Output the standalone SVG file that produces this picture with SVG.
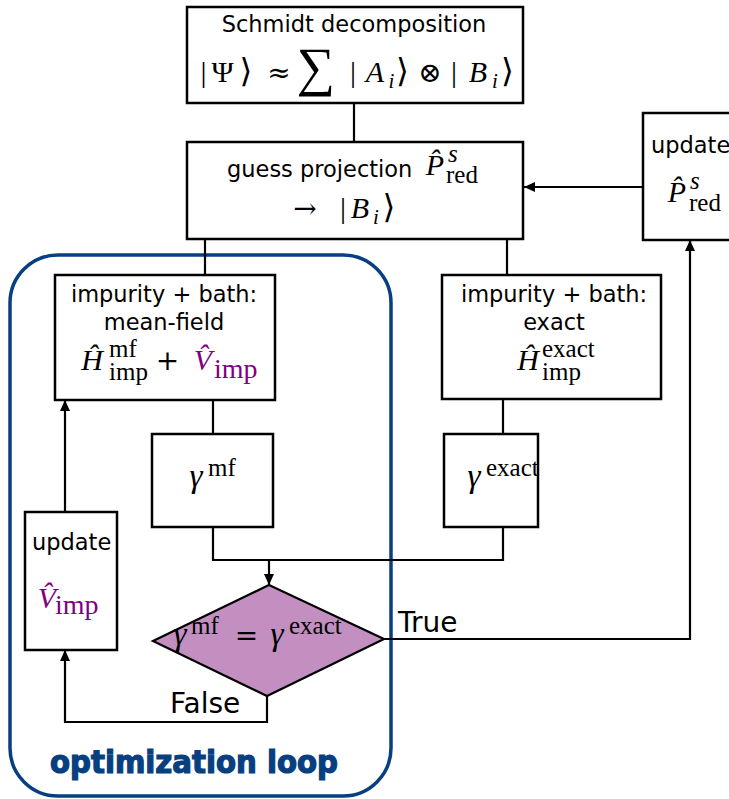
<svg xmlns="http://www.w3.org/2000/svg" width="729" height="799" viewBox="0 0 729 799">
<defs>
<marker id="ah" markerUnits="userSpaceOnUse" markerWidth="11" markerHeight="10" refX="11" refY="5" orient="auto">
<path d="M0,0 L11,5 L0,10 z" fill="#000"/>
</marker>
<style>
.box{fill:#fff;stroke:#000;stroke-width:2.5}
.t{font-family:"DejaVu Sans","Liberation Sans",sans-serif;font-size:22.5px;fill:#000}
.m{font-family:"Liberation Serif","DejaVu Serif",serif;font-size:30px;fill:#000}
.op{font-family:"DejaVu Serif","DejaVu Sans",serif;font-size:28px;fill:#000}
.br{font-family:"DejaVu Sans","DejaVu Serif",sans-serif;font-size:33px;fill:#000;font-weight:normal}
.i{font-style:italic}
.s{font-size:25px}
.ss{font-size:21px}
.big{font-size:54px}
.vi{font-size:28px}
.g{font-size:33px}
.pu{fill:#800080}
.c{text-anchor:middle}
.conn{fill:none;stroke:#000;stroke-width:2.2}
.lbl{font-family:"DejaVu Sans","Liberation Sans",sans-serif;font-size:28px;fill:#000}
</style>
</defs>

<g id="loop">
<rect x="10" y="255" width="381" height="541" rx="48" ry="48" fill="none" stroke="#073f80" stroke-width="3.5"/>
<text x="50" y="773" font-family="'DejaVu Sans Condensed','DejaVu Sans',sans-serif" font-stretch="condensed" font-weight="bold" font-size="32" fill="#073f80" stroke="#073f80" stroke-width="1.2" textLength="288" lengthAdjust="spacingAndGlyphs">optimization loop</text>
</g>

<g id="connectors">
<path class="conn" d="M354,104 V142"/>
<path class="conn" d="M205,240 V275"/>
<path class="conn" d="M507,240 V275"/>
<path class="conn" d="M213,400 V433"/>
<path class="conn" d="M503,400 V433"/>
<path class="conn" d="M213,527 V560 H503 V527"/>
<path class="conn" d="M269,560 V585" marker-end="url(#ah)"/>
<path class="conn" d="M384,639 H690 V240" marker-end="url(#ah)"/>
<path class="conn" d="M643,187 H524" marker-end="url(#ah)"/>
<path class="conn" d="M267,696 V722 H65 V650" marker-end="url(#ah)"/>
<path class="conn" d="M65,511 V400" marker-end="url(#ah)"/>
<text class="lbl" x="398" y="632">True</text>
<text class="lbl" x="170" y="713">False</text>
</g>

<g id="schmidt">
<rect class="box" x="187" y="7" width="336" height="96"/>
<text class="t c" x="354" y="32">Schmidt decomposition</text>
<text class="m c" y="82"><tspan x="203.5">|</tspan><tspan x="222.5">Ψ</tspan><tspan x="353">|</tspan><tspan x="375" class="i">A</tspan><tspan x="454">|</tspan><tspan x="478" class="i">B</tspan></text>
<text class="br c" y="82"><tspan x="246">⟩</tspan><tspan x="402.5">⟩</tspan><tspan x="507.5">⟩</tspan></text>
<text class="op c" y="82"><tspan x="279">≈</tspan><tspan x="430">⊗</tspan></text>
<text class="m c big" x="316" y="85">∑</text>
<text class="m c i ss" x="391.5" y="88">i</text>
<text class="m c i ss" x="495" y="88">i</text>
</g>

<g id="guess">
<rect class="box" x="187" y="142" width="336" height="97"/>
<text class="t" x="227" y="177">guess projection</text>
<text class="m i c" x="435" y="175">P&#x302;</text>
<text class="m i s" x="448" y="162">s</text>
<text class="m s" x="446" y="183">red</text>
<text class="op c" x="305" y="218">→</text>
<text class="m c" y="218"><tspan x="343">|</tspan><tspan x="360" class="i">B</tspan></text>
<text class="br c" x="389" y="218">⟩</text>
<text class="m c i ss" x="376" y="224">i</text>
</g>

<g id="updateP">
<rect class="box" x="643" y="113" width="100" height="127"/>
<text class="t" x="651" y="153">update</text>
<text class="m i c" x="677" y="202">P&#x302;</text>
<text class="m i s" x="690" y="189">s</text>
<text class="m s" x="689" y="211">red</text>
</g>

<g id="meanfield">
<rect class="box" x="55" y="275" width="220" height="125"/>
<text class="t c" x="164" y="302">impurity + bath:</text>
<text class="t c" x="164" y="330">mean-field</text>
<text class="m i c" x="92" y="370">Ĥ</text>
<text class="m s" x="109" y="357">mf</text>
<text class="m s" x="109" y="380">imp</text>
<text class="op c" x="167.5" y="370">+</text>
<text class="m i c pu" x="203" y="370">V&#x302;</text>
<text class="m pu vi" x="214" y="378">imp</text>
</g>

<g id="exact">
<rect class="box" x="442" y="275" width="219" height="124"/>
<text class="t c" x="554" y="302">impurity + bath:</text>
<text class="t c" x="554" y="330">exact</text>
<text class="m i c" x="528" y="370">Ĥ</text>
<text class="m s" x="542" y="357">exact</text>
<text class="m s" x="542" y="380">imp</text>
</g>

<g id="gamma_mf">
<rect class="box" x="152" y="434" width="121" height="93"/>
<text class="m i c g" x="196" y="487">γ</text>
<text class="m s" x="208" y="476">mf</text>
</g>

<g id="gamma_exact">
<rect class="box" x="444" y="434" width="94" height="93"/>
<text class="m i c g" x="474" y="487">γ</text>
<text class="m s" x="486" y="476">exact</text>
</g>

<g id="decision">
<polygon points="269,585 384,639 267,696 153,641" fill="#c38fc1" stroke="#000" stroke-width="2.2"/>
<text class="m i c g" x="180" y="645">γ</text>
<text class="m s" x="191" y="634">mf</text>
<text class="op c" x="246.5" y="645">=</text>
<text class="m i c g" x="277" y="645">γ</text>
<text class="m s" x="289" y="634">exact</text>
</g>

<g id="updateV">
<rect class="box" x="25" y="512" width="92" height="138"/>
<text class="t" x="32" y="550">update</text>
<text class="m i c pu" x="47" y="608">V&#x302;</text>
<text class="m pu vi" x="55" y="614">imp</text>
</g>
</svg>
